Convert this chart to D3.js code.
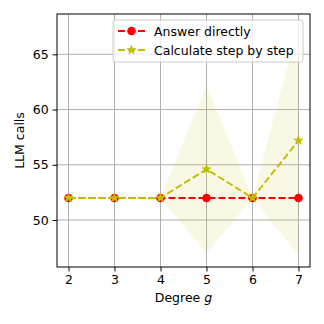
<!DOCTYPE html>
<html lang="en">
<head>
<meta charset="utf-8">
<title>llm calls</title>
<script src="https://cdn.jsdelivr.net/npm/d3@7"></script>
<style>
body { margin: 0; background: #fff; }
text { font-family: "DejaVu Sans", sans-serif; }
</style>
</head>
<body>
<div id="chart"></div>
<script>
// values
var degrees = [2, 3, 4, 5, 6, 7];
var directCalls = [52, 52, 52, 52, 52, 52];
var stepCalls = [52, 52, 52, 54.6, 52, 57.2];
var stepSpread = [0, 0, 0, 7.6, 0, 10.4];
var yTicks = [50, 55, 60, 65];
var seriesNames = ["Answer directly", "Calculate step by step"];

var W = 324, H = 324;
var m = {left: 57, right: 310, top: 14, bottom: 267};

var svg = d3.select("#chart").append("svg")
    .attr("width", W).attr("height", H);

var x = d3.scaleLinear().domain([1.75, 7.25]).range([m.left, m.right]);
var y = d3.scaleLinear().domain([45.75, 68.65]).range([m.bottom, m.top]);

svg.append("clipPath").attr("id", "clip")
  .append("rect")
  .attr("x", m.left).attr("y", m.top)
  .attr("width", m.right - m.left).attr("height", m.bottom - m.top);

// grid
var grid = svg.append("g");
grid.selectAll(".gx").data(degrees).enter().append("line")
    .attr("x1", function(d){ return x(d) }).attr("x2", function(d){ return x(d) })
    .attr("y1", m.top).attr("y2", m.bottom)
    .attr("stroke", "#b0b0b0").attr("stroke-width", 1);
grid.selectAll(".gy").data(yTicks).enter().append("line")
    .attr("y1", function(d){ return y(d) }).attr("y2", function(d){ return y(d) })
    .attr("x1", m.left).attr("x2", m.right)
    .attr("stroke", "#b0b0b0").attr("stroke-width", 1);

var plot = svg.append("g").attr("clip-path", "url(#clip)");

var stepRows = degrees.map(function(d, i){
    return {g: d, v: stepCalls[i], s: stepSpread[i]};
});
var directRows = degrees.map(function(d, i){
    return {g: d, v: directCalls[i]};
});

// spread band
var area = d3.area()
    .x(function(d){ return x(d.g) })
    .y0(function(d){ return y(d.v - d.s) })
    .y1(function(d){ return y(d.v + d.s) });
plot.append("path").datum(stepRows)
    .attr("d", area)
    .attr("fill", "#bfbf00").attr("fill-opacity", 0.1);

var line = d3.line()
    .x(function(d){ return x(d.g) })
    .y(function(d){ return y(d.v) });

// answer directly
plot.append("path").datum(directRows)
    .attr("d", line).attr("fill", "none")
    .attr("stroke", "red").attr("stroke-width", 1.9)
    .attr("stroke-dasharray", "7,3");
plot.selectAll(".dot").data(directRows).enter().append("circle")
    .attr("cx", function(d){ return x(d.g) })
    .attr("cy", function(d){ return y(d.v) })
    .attr("r", 4.3).attr("fill", "red");

// step by step
var star = d3.symbol().type(d3.symbolStar).size(22);
plot.append("path").datum(stepRows)
    .attr("d", line).attr("fill", "none")
    .attr("stroke", "#bfbf00").attr("stroke-width", 1.9)
    .attr("stroke-dasharray", "7,3");
plot.selectAll(".star").data(stepRows).enter().append("path")
    .attr("d", star)
    .attr("transform", function(d){ return "translate(" + x(d.g) + "," + y(d.v) + ")" })
    .attr("fill", "#bfbf00").attr("stroke", "#bfbf00").attr("stroke-width", 1);

// axes
var xAxis = svg.append("g")
    .attr("transform", "translate(0," + m.bottom + ")")
    .call(d3.axisBottom(x).tickValues(degrees).tickFormat(d3.format("d")).tickSize(4.4).tickPadding(4));
var yAxis = svg.append("g")
    .attr("transform", "translate(" + m.left + ",0)")
    .call(d3.axisLeft(y).tickValues(yTicks).tickSize(4.4).tickPadding(4));
[xAxis, yAxis].forEach(function(a){
    a.select(".domain").remove();
    a.selectAll("text").attr("font-size", 12.5).attr("fill", "#000")
        .attr("font-family", "DejaVu Sans, sans-serif");
    a.selectAll("line").attr("stroke", "#000").attr("stroke-width", 1);
});

svg.append("rect")
    .attr("x", m.left).attr("y", m.top)
    .attr("width", m.right - m.left).attr("height", m.bottom - m.top)
    .attr("fill", "none").attr("stroke", "#000").attr("stroke-width", 1);

// labels
var xl = svg.append("text")
    .attr("x", (m.left + m.right) / 2).attr("y", 302)
    .attr("text-anchor", "middle").attr("font-size", 12.5);
xl.append("tspan").text("Degree ");
xl.append("tspan").attr("font-style", "italic").text("g");

svg.append("text")
    .attr("transform", "translate(24," + (m.top + m.bottom) / 2 + ") rotate(-90)")
    .attr("text-anchor", "middle").attr("font-size", 12.5)
    .text("LLM calls");

// legend
var lg = svg.append("g");
lg.append("rect")
    .attr("x", 113).attr("y", 20).attr("width", 190).attr("height", 42)
    .attr("rx", 2.5)
    .attr("fill", "#fff").attr("fill-opacity", 0.8)
    .attr("stroke", "#cccccc").attr("stroke-width", 1);

var legendRows = [
    {name: seriesNames[0], color: "red", mark: "circle"},
    {name: seriesNames[1], color: "#bfbf00", mark: "star"}
];
legendRows.forEach(function(r, i){
    var cy = 31 + i * 19;
    lg.append("line")
        .attr("x1", 118).attr("x2", 145).attr("y1", cy).attr("y2", cy)
        .attr("stroke", r.color).attr("stroke-width", 1.9)
        .attr("stroke-dasharray", "7,3");
    if (r.mark == "circle") {
        lg.append("circle").attr("cx", 131.5).attr("cy", cy).attr("r", 4.3).attr("fill", r.color);
    } else {
        lg.append("path").attr("d", star)
            .attr("transform", "translate(131.5," + cy + ")")
            .attr("fill", r.color).attr("stroke", r.color).attr("stroke-width", 1);
    }
    lg.append("text")
        .attr("x", 154).attr("y", cy + 4.5)
        .attr("font-size", 12.5).attr("fill", "#000")
        .text(r.name);
});
</script>
</body>
</html>
